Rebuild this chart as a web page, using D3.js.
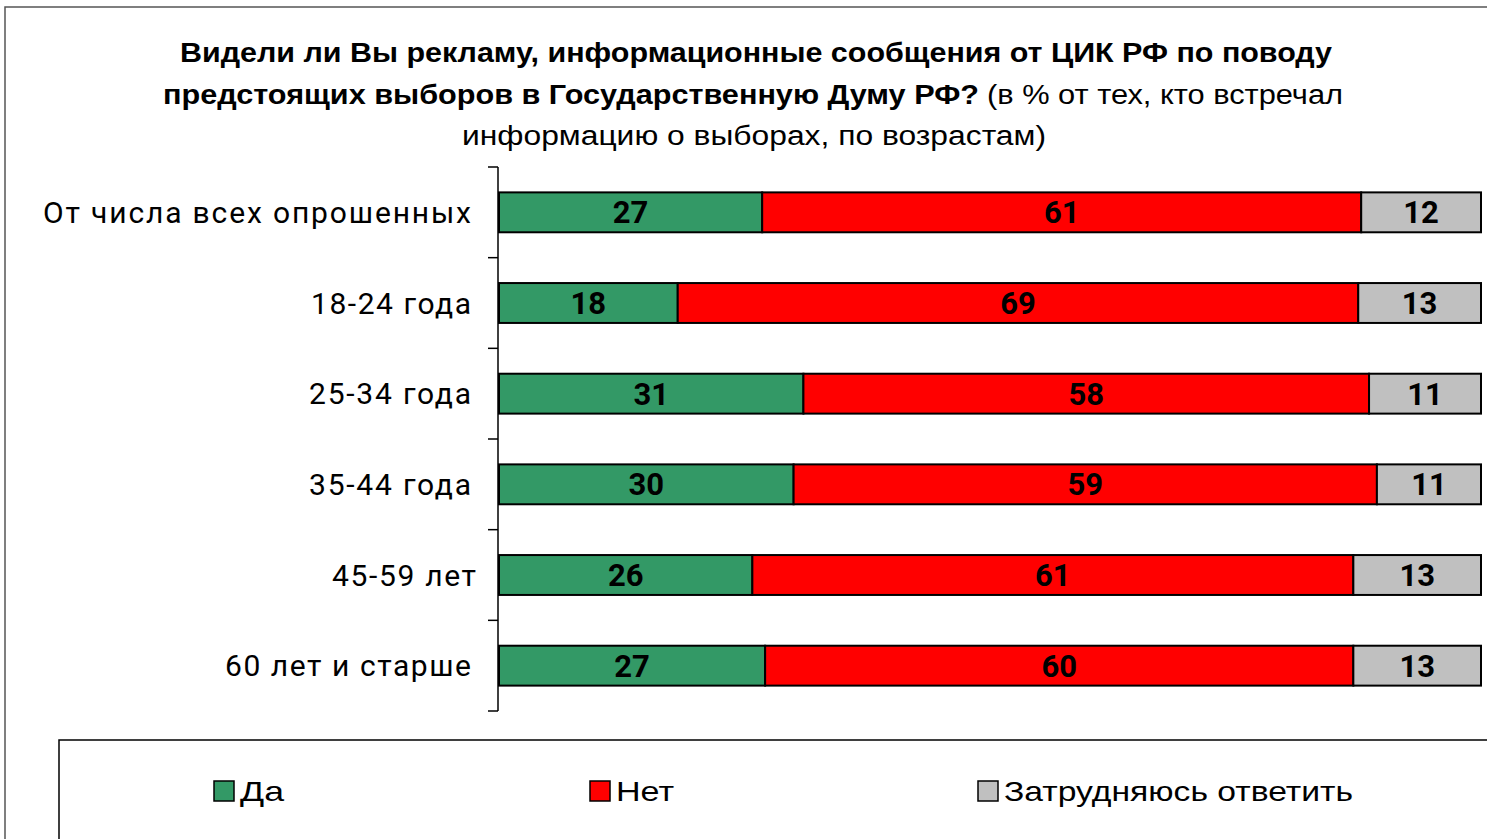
<!DOCTYPE html>
<html>
<head>
<meta charset="utf-8">
<script src="https://cdn.jsdelivr.net/npm/d3@7"></script>
<style>
  body { margin: 0; background: #fff; }
  svg { display: block; font-family: "Liberation Sans", Arial, sans-serif; }
</style>
</head>
<body>
<svg id="chart" width="1487" height="839"></svg>
<script>
// data (%, labels shown rounded)
var categories = ["От числа всех опрошенных", "18-24 года", "25-34 года", "35-44 года", "45-59 лет", "60 лет и старше"];
var seriesNames = ["Да", "Нет", "Затрудняюсь ответить"];
var da = [26.8, 18.2, 31.0, 30.0, 25.8, 27.1];
var net = [61.0, 69.3, 57.6, 59.4, 61.2, 59.9];
var zatr = [12.2, 12.5, 11.4, 10.6, 13.0, 13.0];
var colors = ["#339966", "#ff0000", "#c0c0c0"];

var labelWidths = [428, 160, 162, 162, 144, 246];

var svg = d3.select("#chart");

// outer frame
svg.append("rect").attr("x", 5).attr("y", 7).attr("width", 1500).attr("height", 850)
  .attr("fill", "none").attr("stroke", "#555").attr("stroke-width", 1.5);

// title
var title = svg.append("g").attr("font-size", 27).attr("fill", "#000");
title.append("text").attr("x", 180).attr("y", 62).attr("font-weight", "bold")
  .attr("textLength", 1152).attr("lengthAdjust", "spacingAndGlyphs")
  .text("Видели ли Вы рекламу, информационные сообщения от ЦИК РФ по поводу");
title.append("text").attr("x", 163).attr("y", 104).attr("font-weight", "bold")
  .attr("textLength", 816).attr("lengthAdjust", "spacingAndGlyphs")
  .text("предстоящих выборов в Государственную Думу РФ?");
title.append("text").attr("x", 987).attr("y", 104)
  .attr("textLength", 356).attr("lengthAdjust", "spacingAndGlyphs")
  .text("(в %  от тех, кто встречал");
title.append("text").attr("x", 462).attr("y", 145)
  .attr("textLength", 584).attr("lengthAdjust", "spacingAndGlyphs")
  .text("информацию о выборах, по возрастам)");

// scales
var x = d3.scaleLinear().domain([0, 100]).range([499, 1481]);
var y = d3.scaleBand().domain(categories).range([167, 711]).paddingInner(0.56).paddingOuter(0.28);

var rows = categories.map(function(c, i) {
  return { cat: c, Да: da[i], Нет: net[i], "Затрудняюсь ответить": zatr[i] };
});
var stack = d3.stack().keys(seriesNames)(rows);

var layers = svg.selectAll("g.layer").data(stack).enter().append("g")
  .attr("class", "layer").attr("fill", function(d, i) { return colors[i]; });

layers.selectAll("rect").data(function(d) { return d; }).enter().append("rect")
  .attr("x", function(d) { return x(d[0]); })
  .attr("y", function(d) { return y(d.data.cat); })
  .attr("width", function(d) { return x(d[1]) - x(d[0]); })
  .attr("height", y.bandwidth())
  .attr("stroke", "#000").attr("stroke-width", 2);

layers.selectAll("text").data(function(d) { return d; }).enter().append("text")
  .attr("x", function(d) { return (x(d[0]) + x(d[1])) / 2; })
  .attr("y", function(d) { return y(d.data.cat) + y.bandwidth() / 2; })
  .attr("dy", "0.36em").attr("text-anchor", "middle")
  .attr("font-family", "Roboto, sans-serif")
  .attr("font-size", 31).attr("font-weight", "bold").attr("fill", "#000")
  .text(function(d) { return Math.round(d[1] - d[0]); });

// category axis
var axis = svg.append("g");
axis.append("line").attr("x1", 498).attr("x2", 498).attr("y1", 167).attr("y2", 711)
  .attr("stroke", "#000").attr("stroke-width", 1.5);
var bounds = categories.map(function(c) { return y(c) - y.step() * y.paddingInner() / 2; });
bounds.push(711);
axis.selectAll("line.tick").data(bounds).enter().append("line").attr("class", "tick")
  .attr("x1", 488).attr("x2", 498)
  .attr("y1", function(d) { return d; }).attr("y2", function(d) { return d; })
  .attr("stroke", "#000").attr("stroke-width", 1.5);
axis.selectAll("text").data(categories).enter().append("text")
  .attr("x", function(d, i) { return i === 4 ? 476 : 471; })
  .attr("y", function(d) { return y(d) + y.bandwidth() / 2; })
  .attr("dy", "0.36em").attr("text-anchor", "end")
  .attr("font-family", "Roboto, sans-serif")
  .attr("font-size", 30).attr("fill", "#000")
  .attr("textLength", function(d, i) { return labelWidths[i]; })
  .attr("lengthAdjust", "spacing")
  .text(function(d) { return d; });

// legend
svg.append("rect").attr("x", 59).attr("y", 740).attr("width", 1500).attr("height", 200)
  .attr("fill", "none").attr("stroke", "#000").attr("stroke-width", 1.5);
var legendX = [214, 590, 978];
var legendW = [44, 58, 349];
var leg = svg.selectAll("g.leg").data(seriesNames).enter().append("g").attr("class", "leg")
  .attr("transform", function(d, i) { return "translate(" + legendX[i] + ",781)"; });
leg.append("rect").attr("width", 20).attr("height", 20)
  .attr("fill", function(d, i) { return colors[i]; })
  .attr("stroke", "#000").attr("stroke-width", 1.5);
leg.append("text").attr("x", 26).attr("y", 10).attr("dy", "0.36em")
  .attr("font-size", 28).attr("fill", "#000")
  .attr("textLength", function(d, i) { return legendW[i]; })
  .attr("lengthAdjust", "spacingAndGlyphs")
  .text(function(d) { return d; });
</script>
</body>
</html>
